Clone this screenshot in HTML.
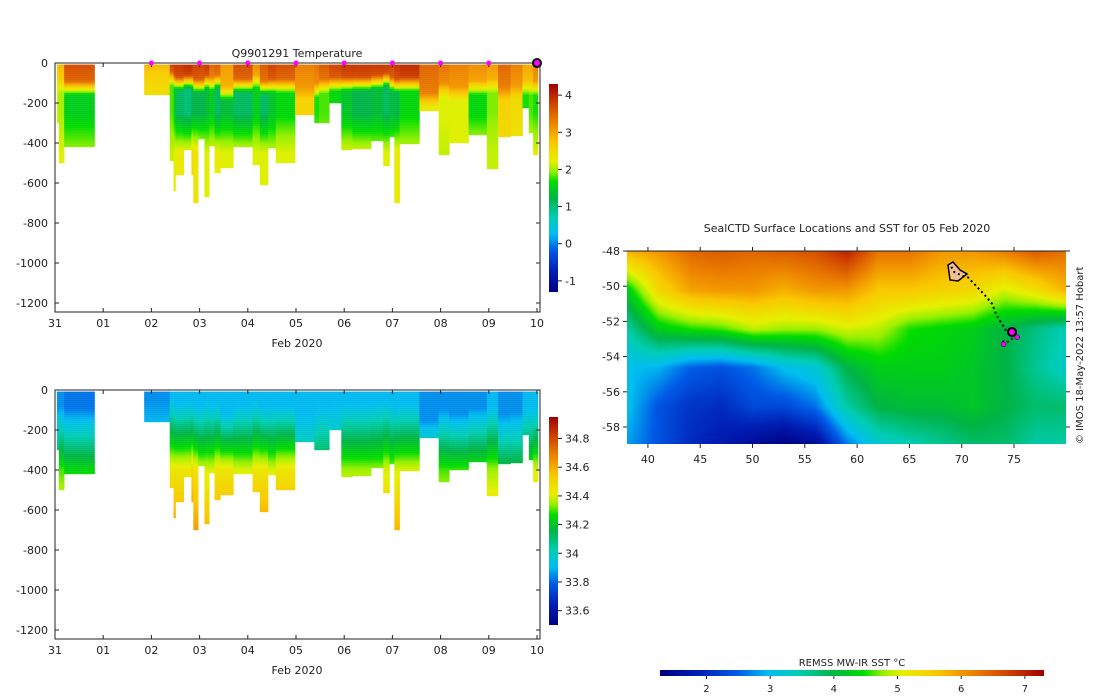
<!DOCTYPE html>
<html><head><meta charset="utf-8">
<style>
body{margin:0;background:#fff;width:1100px;height:696px;overflow:hidden;font-family:"DejaVu Sans","Liberation Sans",sans-serif;}
svg text{font-family:"DejaVu Sans","Liberation Sans",sans-serif;font-size:11px;fill:#222;}
#map{position:absolute;left:627px;top:251px;}
</style></head>
<body>
<canvas id="map" width="439" height="193"></canvas>
<svg id="s" width="1100" height="696" style="position:absolute;left:0;top:0" xmlns="http://www.w3.org/2000/svg">
<defs>
<linearGradient id="cm" x1="0" y1="1" x2="0" y2="0"></linearGradient>
<linearGradient id="cmh" x1="0" y1="0" x2="1" y2="0"></linearGradient>
</defs>
<g id="gT"></g>
<g id="gS"></g>
<g id="gAx"></g>
<text x="297" y="57" text-anchor="middle">Q9901291  Temperature</text>
<text x="297" y="347" text-anchor="middle">Feb 2020</text>
<text x="297" y="674" text-anchor="middle">Feb 2020</text>
<text x="847" y="232" text-anchor="middle">SealCTD Surface Locations and SST for 05 Feb 2020</text>
<text transform="translate(1083,444) rotate(-90)" style="font-size:10px">© IMOS 18-May-2022 13:57 Hobart</text>
<text x="852" y="666" text-anchor="middle" style="font-size:10px">REMSS MW-IR SST °C</text>
<rect x="549" y="84" width="9" height="208" fill="url(#cm)"/>
<rect x="549" y="417" width="9" height="208" fill="url(#cm)"/>
<rect x="660" y="670" width="384" height="6" fill="url(#cmh)"/>
<g id="gMap"></g>
</svg>
<script>
// ---- cast data (days since 31 Jan 2020) ----
const castStart=[0.04,0.08,0.19,1.85,2.38,2.46,2.5,2.67,2.83,2.87,2.97,3.1,3.2,3.31,3.43,3.7,4.1,4.25,4.42,4.58,4.98,5.38,5.48,5.69,5.94,6.17,6.56,6.81,6.94,7.04,7.15,7.56,7.96,8.18,8.58,8.96,9.19,9.45,9.7,9.83,9.92];
const castEnd  =[0.08,0.19,0.82,2.38,2.46,2.5,2.67,2.83,2.87,2.97,3.1,3.2,3.31,3.43,3.7,4.1,4.25,4.42,4.58,4.98,5.38,5.48,5.69,5.94,6.17,6.56,6.81,6.94,7.04,7.15,7.56,7.96,8.18,8.58,8.96,9.19,9.45,9.7,9.83,9.92,10.02];
const castDepth=[300,500,420,160,490,640,560,435,560,700,380,670,415,550,525,420,510,610,425,500,260,300,300,200,435,430,390,515,370,700,405,240,460,400,360,530,370,365,225,350,460];
const castSST  =[2.8,2.9,3.7,2.9,3.8,3.9,3.9,4.0,3.9,3.8,3.8,3.9,3.5,3.6,3.1,3.7,3.2,3.6,3.8,3.7,3.3,3.4,3.6,3.8,3.9,3.9,3.9,3.9,3.8,3.9,4.0,3.5,3.4,3.3,3.2,3.1,3.5,3.3,3.0,3.0,3.3];
const castMLD  =[80,80,90,50,40,60,70,60,60,80,80,60,70,60,120,80,60,90,80,80,120,100,80,70,70,70,60,50,70,80,70,150,100,120,90,80,120,110,90,90,90];
const castTmin =[2.1,2.0,1.5,2.5,1.8,1.5,1.1,1.0,1.2,1.2,1.2,1.3,1.5,1.1,1.3,1.1,1.5,1.1,1.4,1.6,2.6,1.7,1.8,1.6,1.4,1.2,1.3,1.1,1.3,1.2,1.6,2.3,2.2,2.2,1.6,1.9,2.6,2.5,1.7,1.8,1.7];
const castTdeep=[2.1,2.2,2.0,2.3,2.1,2.2,2.3,2.3,2.5,2.4,2.3,2.2,2.2,2.3,2.2,2.2,2.2,2.2,2.1,2.2,2.5,2.0,2.0,1.8,2.2,2.2,2.1,2.2,2.1,2.3,2.1,2.2,2.1,2.2,2.2,2.1,2.5,2.4,2.1,2.2,2.2];
const castS0   =[33.85,33.85,33.82,33.85,33.9,33.9,33.9,33.9,33.9,33.9,33.9,33.9,33.9,33.9,33.9,33.9,33.9,33.9,33.9,33.9,33.9,33.9,33.9,33.9,33.9,33.9,33.9,33.9,33.9,33.9,33.9,33.85,33.85,33.85,33.85,33.9,33.85,33.85,33.9,33.9,33.9];
const castS400 =[34.2,34.3,34.25,34.0,34.45,34.45,34.45,34.45,34.5,34.45,34.4,34.4,34.4,34.45,34.45,34.4,34.45,34.45,34.4,34.45,34.1,34.2,34.2,34.1,34.35,34.35,34.35,34.4,34.35,34.4,34.4,34.2,34.3,34.3,34.3,34.35,34.2,34.2,34.3,34.3,34.4];
const dayLabels=["31","01","02","03","04","05","06","07","08","09","10"];
const depthTicks=[0,-200,-400,-600,-800,-1000,-1200];
const tempTicks=[4,3,2,1,0,-1];
const saltTicks=[34.8,34.6,34.4,34.2,34,33.8,33.6];
const markerDays=[2,3,4,5,6,7,8,9];
// ---- map data ----
const mapLons=[38,41,44,47,50,53,56,59,62,65,68,71,74,77,80];
const mapLats=[-48,-50.2,-52.4,-54.6,-56.8,-59];
const sstGrid=[
[5.8,6.0,6.4,6.5,6.4,6.5,6.6,7.0,6.3,6.3,6.0,6.0,6.2,6.5,6.3],
[4.3,5.4,5.9,6.0,6.0,5.8,6.0,6.0,5.6,5.6,5.5,5.4,5.0,5.3,5.8],
[3.5,4.3,4.5,4.6,4.9,4.8,4.8,5.0,4.9,4.5,4.4,4.3,4.0,3.7,3.4],
[3.0,2.9,2.5,2.4,2.6,3.0,3.2,4.0,4.3,4.3,4.3,4.2,4.0,3.6,3.3],
[3.0,2.4,2.1,2.0,2.3,2.3,2.6,3.5,4.0,4.1,4.1,4.2,4.0,3.8,3.8],
[2.8,2.4,2.0,1.8,1.5,1.3,1.5,2.6,3.2,3.4,3.6,3.8,3.8,3.5,3.5]];
const trackLon=[69,69.3,70,70.6,71.4,72.2,72.9,73.3,73.7,74.2,74.7,75,74.8,74.3,73.8];
const trackLat=[-48.9,-49.2,-49.4,-49.5,-50.0,-50.5,-51.0,-51.6,-52.0,-52.5,-52.6,-52.7,-53.0,-53.2,-53.1];
const surfLon=[74.8,74.0,75.3];
const surfLat=[-52.6,-53.3,-52.9];
const sstTicks=[2,3,4,5,6,7];
const mapLonTicks=[40,45,50,55,60,65,70,75];
const mapLatTicks=[-48,-50,-52,-54,-56,-58];

const NS="http://www.w3.org/2000/svg";
const stops=[[0,[0,0,130]],[0.1,[0,30,180]],[0.2,[0,90,230]],[0.28,[0,190,240]],[0.36,[0,205,180]],[0.45,[0,180,70]],[0.53,[0,220,0]],[0.58,[150,240,0]],[0.63,[230,240,0]],[0.72,[250,200,0]],[0.8,[240,140,0]],[0.9,[210,70,0]],[1,[160,0,0]]];
function cmap(t){t=Math.max(0,Math.min(1,t));for(let i=1;i<stops.length;i++){if(t<=stops[i][0]){const a=stops[i-1],b=stops[i],f=(t-a[0])/(b[0]-a[0]);return a[1].map((v,k)=>Math.round(v+(b[1][k]-v)*f));}}return stops[stops.length-1][1];}
function rgb(c){return `rgb(${c[0]},${c[1]},${c[2]})`;}
function el(tag,attrs,parent){const e=document.createElementNS(NS,tag);for(const k in attrs)e.setAttribute(k,attrs[k]);parent.appendChild(e);return e;}
['cm','cmh'].forEach(id=>{const g=document.getElementById(id);stops.forEach(s=>el('stop',{offset:s[0],'stop-color':rgb(s[1])},g));});
const xDay=d=>55+d*48.2;
const yTop=z=>63+z*0.2, yBot=z=>390+z*0.2;
function tempAt(i,z){const s=castSST[i],m=castMLD[i],tn=castTmin[i],td=castTdeep[i];
 if(z<m)return s-0.2*z/m; if(z<m+70)return s-0.2+(tn-s+0.2)*(z-m)/70; if(z<250)return tn; if(z<450)return tn+(td-tn)*(z-250)/200; return td;}
function saltAt(i,z){const m=castMLD[i],s0=castS0[i],s4=castS400[i];
 if(z<m)return s0; if(z<400)return s0+(s4-s0)*(z-m)/(400-m); return s4+(z-400)*0.0006;}
const gT=document.getElementById('gT'),gS=document.getElementById('gS');
for(let i=0;i<castStart.length;i++){
 const x0=xDay(castStart[i]),w=xDay(castEnd[i])-x0+0.3;
 for(let z=8;z<castDepth[i];z+=10){
  const h=Math.min(10,castDepth[i]-z)*0.2+0.2;
  const r=el('rect',{x:x0,y:yTop(z),width:w,height:h,fill:rgb(cmap((tempAt(i,z+5)+1.3)/5.6))},gT);
  
  
  const r2=el('rect',{x:x0,y:yBot(z),width:w,height:h,fill:rgb(cmap((saltAt(i,z+5)-33.5)/1.45))},gS);
  
  
 }
}
const ax=document.getElementById('gAx');
[[yTop,63,312],[yBot,390,639]].forEach(([yf,top,bot])=>{
 el('rect',{x:55,y:top,width:485,height:bot-top,fill:'none',stroke:'#222','stroke-width':1},ax);
 depthTicks.forEach(v=>{const y=yf(-v);el('line',{x1:55,x2:59,y1:y,y2:y,stroke:'#222'},ax);el('line',{x1:536,x2:540,y1:y,y2:y,stroke:'#222'},ax);
  const t=el('text',{x:48,y:y+4,'text-anchor':'end'},ax);t.textContent=v;});
 dayLabels.forEach((l,k)=>{const x=xDay(k);el('line',{x1:x,x2:x,y1:bot,y2:bot-4,stroke:'#222'},ax);el('line',{x1:x,x2:x,y1:top,y2:top+4,stroke:'#222'},ax);
  const t=el('text',{x:x,y:bot+15,'text-anchor':'middle'},ax);t.textContent=l;});
});
tempTicks.forEach(v=>{const y=292-(v+1.3)/5.6*208;el('line',{x1:558,x2:562,y1:y,y2:y,stroke:'#222'},ax);const t=el('text',{x:565,y:y+4},ax);t.textContent=v;});
saltTicks.forEach(v=>{const y=625-(v-33.5)/1.45*208;el('line',{x1:558,x2:562,y1:y,y2:y,stroke:'#222'},ax);const t=el('text',{x:565,y:y+4},ax);t.textContent=v;});
markerDays.forEach(d=>{const c=el('circle',{cx:xDay(d),cy:63,r:2.5,fill:'#ff00ff'},ax);});
el('circle',{cx:xDay(10),cy:63,r:4,fill:'#ff00ff',stroke:'#000','stroke-width':2},ax);
// map
const lonX=l=>627+(l-38)*10.46, latY=a=>251+(-48-a)*17.6;
const cv=document.getElementById('map'),ctx=cv.getContext('2d'),img=ctx.createImageData(439,193);
function interp(lon,lat){let i=0;while(i<mapLons.length-2&&lon>mapLons[i+1])i++;let j=0;while(j<mapLats.length-2&&lat<mapLats[j+1])j++;
 const fx=Math.max(0,Math.min(1,(lon-mapLons[i])/(mapLons[i+1]-mapLons[i]))),fy=Math.max(0,Math.min(1,(lat-mapLats[j])/(mapLats[j+1]-mapLats[j])));
 const a=sstGrid[j][i],b=sstGrid[j][i+1],c=sstGrid[j+1][i],d=sstGrid[j+1][i+1];return a*(1-fx)*(1-fy)+b*fx*(1-fy)+c*(1-fx)*fy+d*fx*fy;}
for(let py=0;py<193;py++)for(let px=0;px<439;px++){const v=interp(38+px/10.46,-48-py/17.6);const c=cmap((v-1.27)/6.03);const o=(py*439+px)*4;img.data[o]=c[0];img.data[o+1]=c[1];img.data[o+2]=c[2];img.data[o+3]=255;}
ctx.putImageData(img,0,0);
const gm=document.getElementById('gMap');
el('line',{x1:627,x2:1066,y1:251,y2:251,stroke:'#222'},gm);
mapLonTicks.forEach(l=>{const x=lonX(l);el('line',{x1:x,x2:x,y1:444,y2:448,stroke:'#222'},gm);el('line',{x1:x,x2:x,y1:251,y2:247,stroke:'#222'},gm);const t=el('text',{x:x,y:463,'text-anchor':'middle'},gm);t.textContent=l;});
mapLatTicks.forEach(a=>{const y=latY(a);el('line',{x1:623,x2:627,y1:y,y2:y,stroke:'#222'},gm);el('line',{x1:1066,x2:1070,y1:y,y2:y,stroke:'#222'},gm);const t=el('text',{x:620,y:y+4,'text-anchor':'end'},gm);t.textContent=a;});
el('path',{d:'M948,265 L953,262 L960,270 L967,274 L958,281 L950,280 Z',fill:'#f5c090',stroke:'#000','stroke-width':1.5},gm);
let pd='';trackLon.forEach((l,k)=>{pd+=(k?'L':'M')+lonX(l).toFixed(1)+','+latY(trackLat[k]).toFixed(1);});
const tp=el('path',{d:pd,fill:'none',stroke:'#000','stroke-width':2,'stroke-dasharray':'2 3'},gm);

surfLon.forEach((l,k)=>{const c=el('circle',{cx:lonX(l),cy:latY(surfLat[k]),r:k?2.5:4,fill:'#ff00ff',stroke:'#000','stroke-width':k?0.5:2},gm);});
sstTicks.forEach(v=>{const x=660+(v-1.27)/6.03*384;el('line',{x1:x,x2:x,y1:676,y2:679,stroke:'#222'},gm);const t=el('text',{x:x,y:692,'text-anchor':'middle',style:'font-size:10px'},gm);t.textContent=v;});
</script>
</body></html>
